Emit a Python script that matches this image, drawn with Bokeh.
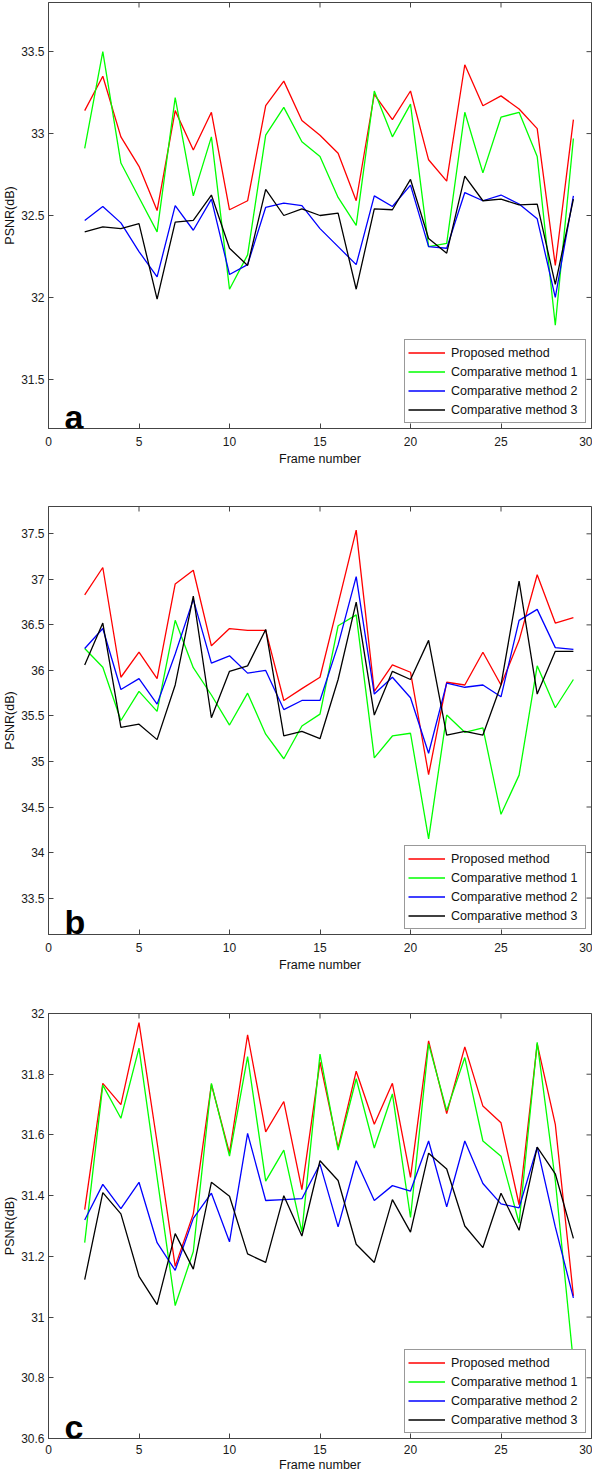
import math
from bokeh.plotting import figure
from bokeh.layouts import column
from bokeh.models import FixedTicker, CustomJSTickFormatter, Label, Range1d
from bokeh.embed import file_html
from bokeh.resources import INLINE

# ---------------- data ----------------
frames = [2, 3, 4, 5, 6, 7, 8, 9, 10, 11, 12, 13, 14, 15, 16, 17, 18, 19, 20,
          21, 22, 23, 24, 25, 26, 27, 28, 29]

series_names = ["Proposed method", "Comparative method 1",
                "Comparative method 2", "Comparative method 3"]
series_colors = ["#ff0000", "#00ff00", "#0000ff", "#000000"]

# panel a
a_proposed = [33.14, 33.35, 32.98, 32.80, 32.53, 33.14, 32.90, 33.13, 32.535, 32.59,
              33.17, 33.32, 33.08, 32.99, 32.88, 32.59, 33.24, 33.085, 33.26, 32.84,
              32.71, 33.42, 33.17, 33.23, 33.15, 33.03, 32.195, 33.085]
a_comp1 = [32.91, 33.50, 32.82, 32.61, 32.40, 33.22, 32.62, 32.98, 32.05, 32.26,
           32.99, 33.16, 32.95, 32.86, 32.61, 32.44, 33.26, 32.98, 33.18, 32.31,
           32.33, 33.13, 32.76, 33.10, 33.13, 32.86, 31.83, 32.97]
a_comp2 = [32.47, 32.555, 32.455, 32.28, 32.125, 32.56, 32.41, 32.60, 32.14, 32.20,
           32.55, 32.575, 32.56, 32.42, 32.31, 32.20, 32.62, 32.555, 32.685, 32.31,
           32.30, 32.64, 32.59, 32.625, 32.57, 32.48, 32.00, 32.62]
a_comp3 = [32.40, 32.43, 32.42, 32.45, 31.99, 32.46, 32.47, 32.625, 32.30, 32.195,
           32.66, 32.50, 32.54, 32.50, 32.515, 32.05, 32.54, 32.535, 32.72, 32.36,
           32.27, 32.74, 32.59, 32.60, 32.565, 32.57, 32.08, 32.60]

# panel b
b_proposed = [36.83, 37.13, 35.925, 36.20, 35.91, 36.95, 37.10, 36.27, 36.46, 36.44,
              36.44, 35.67, 35.80, 35.925, 36.73, 37.54, 35.77, 36.06, 35.98, 34.855,
              35.87, 35.84, 36.20, 35.84, 36.33, 37.05, 36.52, 36.58]
b_comp1 = [36.24, 36.035, 35.45, 35.77, 35.55, 36.55, 36.03, 35.73, 35.40, 35.75,
           35.30, 35.03, 35.39, 35.52, 36.49, 36.61, 35.04, 35.28, 35.31, 34.15,
           35.51, 35.32, 35.37, 34.42, 34.85, 36.05, 35.59, 35.90]
b_comp2 = [36.24, 36.46, 35.79, 35.91, 35.63, 36.18, 36.78, 36.08, 36.16, 35.97,
           36.00, 35.57, 35.67, 35.67, 36.28, 37.03, 35.74, 35.925, 35.70, 35.09,
           35.86, 35.815, 35.84, 35.71, 36.55, 36.67, 36.25, 36.23]
b_comp3 = [36.06, 36.52, 35.375, 35.41, 35.24, 35.84, 36.815, 35.48, 35.99, 36.05,
           36.45, 35.28, 35.33, 35.25, 35.90, 36.75, 35.51, 35.99, 35.90, 36.33,
           35.29, 35.33, 35.29, 35.84, 36.98, 35.74, 36.21, 36.21]

# panel c
c_proposed = [31.354, 31.77, 31.70, 31.97, 31.575, 31.167, 31.34, 31.766, 31.54, 31.93,
              31.61, 31.71, 31.42, 31.84, 31.557, 31.81, 31.635, 31.77, 31.46, 31.91,
              31.67, 31.89, 31.695, 31.64, 31.37, 31.90, 31.635, 31.07]
c_comp1 = [31.245, 31.764, 31.655, 31.886, 31.46, 31.038, 31.216, 31.77, 31.53, 31.858,
           31.448, 31.55, 31.28, 31.866, 31.55, 31.785, 31.557, 31.735, 31.328, 31.90,
           31.68, 31.855, 31.58, 31.53, 31.31, 31.905, 31.45, 30.85]
c_comp2 = [31.32, 31.437, 31.357, 31.444, 31.245, 31.154, 31.325, 31.408, 31.248, 31.605,
           31.384, 31.387, 31.39, 31.504, 31.297, 31.515, 31.384, 31.433, 31.415, 31.58,
           31.363, 31.58, 31.44, 31.373, 31.36, 31.56, 31.297, 31.063]
c_comp3 = [31.123, 31.41, 31.34, 31.134, 31.041, 31.275, 31.158, 31.444, 31.398, 31.208,
           31.18, 31.40, 31.267, 31.515, 31.45, 31.24, 31.18, 31.387, 31.28, 31.54,
           31.488, 31.30, 31.229, 31.408, 31.286, 31.56, 31.472, 31.259]

x_ticks = [0, 5, 10, 15, 20, 25, 30]
x_tick_labels = ["0", "5", "10", "15", "20", "25", "30"]

a_y_ticks = [31.5, 32.0, 32.5, 33.0, 33.5]
a_y_tick_labels = ["31.5", "32", "32.5", "33", "33.5"]
b_y_ticks = [33.5, 34.0, 34.5, 35.0, 35.5, 36.0, 36.5, 37.0, 37.5]
b_y_tick_labels = ["33.5", "34", "34.5", "35", "35.5", "36", "36.5", "37", "37.5"]
c_y_ticks = [30.6, 30.8, 31.0, 31.2, 31.4, 31.6, 31.8, 32.0]
c_y_tick_labels = ["30.6", "30.8", "31", "31.2", "31.4", "31.6", "31.8", "32"]

x_limits = (0, 30)
a_y_limits = (31.2, 33.8)
b_y_limits = (33.1, 37.8)
c_y_limits = (30.6, 32.0)

x_label = "Frame number"
y_label = "PSNR(dB)"

FONT = "Liberation Sans"
AXIS_COLOR = "#444444"
TICK_LEN = 5
FIG_W = 592


def label_formatter(tick_vals, tick_texts):
    return CustomJSTickFormatter(
        args=dict(tick_vals=tick_vals, tick_texts=tick_texts),
        code="""
        for (let i = 0; i < tick_vals.length; i++) {
            if (Math.abs(tick_vals[i] - tick) < 1e-6) { return tick_texts[i]; }
        }
        return "";
        """)


def style_axis(ax, tick_vals, tick_texts):
    ax.ticker = FixedTicker(ticks=tick_vals)
    ax.formatter = label_formatter(tick_vals, tick_texts)
    ax.major_tick_in = TICK_LEN
    ax.major_tick_out = 0
    ax.minor_tick_line_color = None
    ax.major_tick_line_color = AXIS_COLOR
    ax.axis_line_color = AXIS_COLOR
    ax.major_label_text_font = FONT
    ax.major_label_text_color = "#1a1a1a"
    ax.major_label_text_font_size = "12px"


def make_panel(series, y_limits, y_ticks, y_tick_labels, letter,
               height, border_top, border_bottom, lab_standoff, title_standoff):
    p = figure(width=FIG_W, height=height,
               x_range=Range1d(*x_limits), y_range=Range1d(*y_limits),
               output_backend="svg", toolbar_location=None,
               min_border_left=48, min_border_right=1,
               min_border_top=border_top, min_border_bottom=border_bottom)
    p.grid.visible = False
    p.outline_line_color = AXIS_COLOR
    p.outline_line_alpha = 1.0
    p.background_fill_color = "white"
    p.border_fill_color = "white"

    # box-style tick marks on the top and right edges (MATLAB "box on")
    p.ray(x=x_ticks, y=[y_limits[1]] * len(x_ticks), length=TICK_LEN,
          length_units="screen", angle=-math.pi / 2, line_color=AXIS_COLOR,
          line_width=1)
    p.ray(x=[x_limits[1]] * len(y_ticks), y=y_ticks, length=TICK_LEN,
          length_units="screen", angle=math.pi, line_color=AXIS_COLOR,
          line_width=1)

    for vals, name, col in zip(series, series_names, series_colors):
        p.line(frames, vals, line_color=col, line_width=1.3, legend_label=name)

    style_axis(p.xaxis[0], x_ticks, x_tick_labels)
    p.xaxis.major_label_standoff = lab_standoff
    p.xaxis.axis_label = x_label
    p.xaxis.axis_label_standoff = title_standoff
    p.xaxis.axis_label_text_font = FONT
    p.xaxis.axis_label_text_font_size = "12.5px"
    p.xaxis.axis_label_text_font_style = "normal"
    p.xaxis.axis_label_text_color = "#111111"

    style_axis(p.yaxis[0], y_ticks, y_tick_labels)
    p.yaxis.major_label_standoff = 4
    p.yaxis.axis_label = y_label
    p.yaxis.axis_label_standoff = 1
    p.yaxis.axis_label_text_font = FONT
    p.yaxis.axis_label_text_font_size = "12.5px"
    p.yaxis.axis_label_text_font_style = "normal"
    p.yaxis.axis_label_text_color = "#111111"

    span = y_limits[1] - y_limits[0]
    p.add_layout(Label(x=0.88, y=y_limits[0] + span * 12.0 / 427.0,
                       text=letter, text_font=FONT, text_font_size="34px",
                       text_font_style="bold", text_color="#000000",
                       text_baseline="alphabetic", text_align="left"))

    lg = p.legend[0]
    lg.location = "bottom_right"
    lg.margin = 5
    lg.padding = 3
    lg.spacing = 0
    lg.label_height = 19
    lg.glyph_height = 19
    lg.glyph_width = 37
    lg.label_standoff = 6
    lg.label_width = 131
    lg.border_line_color = "#333333"
    lg.border_line_width = 1
    lg.background_fill_color = "white"
    lg.background_fill_alpha = 1.0
    lg.label_text_font = FONT
    lg.label_text_font_size = "12.5px"
    lg.label_text_color = "#111111"
    return p


pa = make_panel([a_proposed, a_comp1, a_comp2, a_comp3], a_y_limits,
                a_y_ticks, a_y_tick_labels, "a", 476, 2, 48, 8, 3)
pb = make_panel([b_proposed, b_comp1, b_comp2, b_comp3], b_y_limits,
                b_y_ticks, b_y_tick_labels, "b", 506, 30, 48, 8, 3)
pc = make_panel([c_proposed, c_comp1, c_comp2, c_comp3], c_y_limits,
                c_y_ticks, c_y_tick_labels, "c", 492, 31, 36, 6, 1)

layout = column(pa, pb, pc, spacing=0)

with open("out.html", "w") as f:
    f.write(file_html(layout, INLINE))
